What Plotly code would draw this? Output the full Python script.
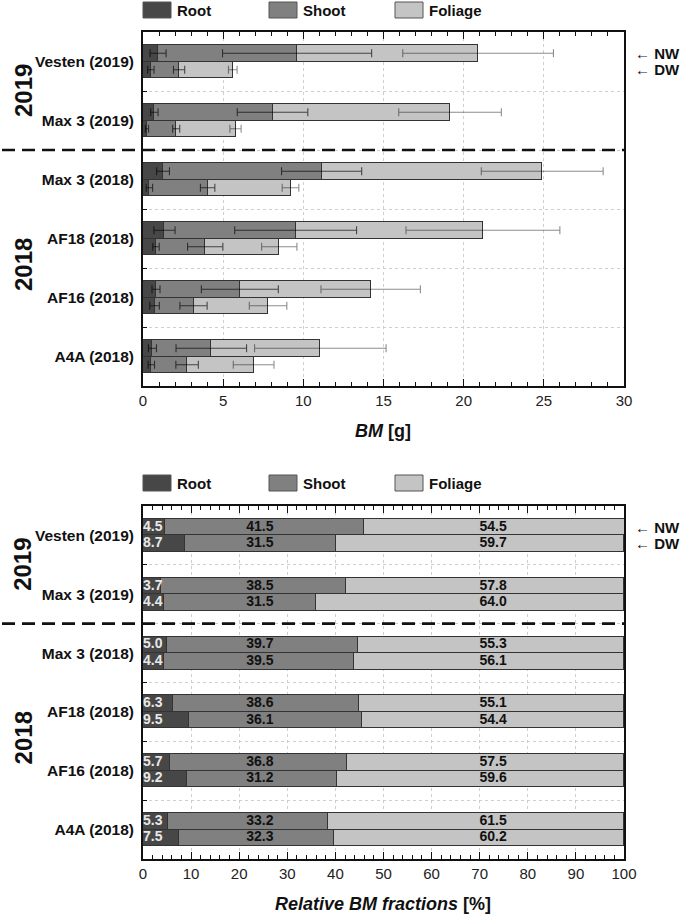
import plotly.graph_objects as go

# ---------------- data ----------------
categories = ["Vesten (2019)", "Max 3 (2019)", "Max 3 (2018)",
              "AF18 (2018)", "AF16 (2018)", "A4A (2018)"]
series_names = ["Root", "Shoot", "Foliage"]
year_labels = ["2019", "2018"]

# Biomass [g] - NW (upper bar) and DW (lower bar)
nw_root = [0.94, 0.71, 1.25, 1.34, 0.81, 0.59]
nw_shoot = [8.67, 7.37, 9.89, 8.18, 5.23, 3.67]
nw_foliage = [11.29, 11.07, 13.76, 11.68, 8.16, 6.80]
dw_root = [0.49, 0.25, 0.40, 0.81, 0.72, 0.52]
dw_shoot = [1.76, 1.82, 3.63, 3.07, 2.43, 2.23]
dw_foliage = [3.35, 3.70, 5.17, 4.62, 4.65, 4.15]

nw_root_sd = [0.50, 0.23, 0.40, 0.66, 0.25, 0.25]
nw_shoot_sd = [4.65, 2.20, 2.50, 3.80, 2.40, 2.20]
nw_foliage_sd = [4.70, 3.20, 3.80, 4.80, 3.10, 4.10]
dw_root_sd = [0.20, 0.10, 0.20, 0.20, 0.30, 0.20]
dw_shoot_sd = [0.35, 0.22, 0.45, 1.10, 0.85, 0.70]
dw_foliage_sd = [0.27, 0.35, 0.52, 1.10, 1.17, 1.27]

# Relative BM fractions [%]
nw_root_pct = [4.5, 3.7, 5.0, 6.3, 5.7, 5.3]
nw_shoot_pct = [41.5, 38.5, 39.7, 38.6, 36.8, 33.2]
nw_foliage_pct = [54.5, 57.8, 55.3, 55.1, 57.5, 61.5]
dw_root_pct = [8.7, 4.4, 4.4, 9.5, 9.2, 7.5]
dw_shoot_pct = [31.5, 31.5, 39.5, 36.1, 31.2, 32.3]
dw_foliage_pct = [59.7, 64.0, 56.1, 54.4, 59.6, 60.2]

# ---------------- style ----------------
FONT = "Liberation Sans, Arial, sans-serif"
colors = ["#474747", "#808080", "#c4c4c4"]
outline = "#333333"
err_colors = ["rgba(0,0,0,0.65)", "rgba(0,0,0,0.65)", "rgba(0,0,0,0.45)"]
OFF = 0.14
BW = 0.28

idx = list(range(len(categories)))
y_nw = [i - OFF for i in idx]
y_dw = [i + OFF for i in idx]
ypos = y_nw + y_dw

fig = go.Figure()

# ---------- top chart: absolute BM ----------
top_vals = [nw_root + dw_root, nw_shoot + dw_shoot, nw_foliage + dw_foliage]
top_sd = [nw_root_sd + dw_root_sd, nw_shoot_sd + dw_shoot_sd, nw_foliage_sd + dw_foliage_sd]
for k, name in enumerate(series_names):
    fig.add_trace(go.Bar(
        x=top_vals[k], y=ypos, orientation="h", width=BW, name=name,
        marker=dict(color=colors[k], line=dict(color=outline, width=1.3)),
        xaxis="x", yaxis="y", showlegend=False, hoverinfo="skip"))

cum = [0.0] * len(ypos)
for k in range(3):
    cum = [c + v for c, v in zip(cum, top_vals[k])]
    fig.add_trace(go.Scatter(
        x=cum, y=ypos, mode="markers",
        marker=dict(size=1, color="rgba(0,0,0,0)"),
        error_x=dict(type="data", array=top_sd[k], symmetric=True,
                     color=err_colors[k], thickness=1.1, width=4),
        xaxis="x", yaxis="y", showlegend=False, hoverinfo="skip"))

# ---------- bottom chart: relative fractions ----------
bot_vals = [nw_root_pct + dw_root_pct, nw_shoot_pct + dw_shoot_pct,
            nw_foliage_pct + dw_foliage_pct]
for k, name in enumerate(series_names):
    fig.add_trace(go.Bar(
        x=bot_vals[k], y=ypos, orientation="h", width=BW, name=name,
        marker=dict(color=colors[k], line=dict(color=outline, width=1.3)),
        xaxis="x2", yaxis="y2", showlegend=False, hoverinfo="skip"))

# value labels
fig.add_trace(go.Scatter(
    x=[0.0] * len(ypos), y=ypos, mode="text",
    text=[f"{v:.1f}" for v in bot_vals[0]], textposition="middle right",
    textfont=dict(family=FONT, size=14, color="#e8e8e8", weight="bold"),
    xaxis="x2", yaxis="y2", showlegend=False, hoverinfo="skip"))
fig.add_trace(go.Scatter(
    x=[24.3] * len(ypos), y=ypos, mode="text",
    text=[f"{v:.1f}" for v in bot_vals[1]], textposition="middle center",
    textfont=dict(family=FONT, size=14, color="#111111", weight="bold"),
    xaxis="x2", yaxis="y2", showlegend=False, hoverinfo="skip"))
fig.add_trace(go.Scatter(
    x=[72.8] * len(ypos), y=ypos, mode="text",
    text=[f"{v:.1f}" for v in bot_vals[2]], textposition="middle center",
    textfont=dict(family=FONT, size=14, color="#111111", weight="bold"),
    xaxis="x2", yaxis="y2", showlegend=False, hoverinfo="skip"))

# ---------------- geometry ----------------
FW, FH = 685, 916
TOP_PX, BOT_PX = 32, 859
plot_h = BOT_PX - TOP_PX
def py(p):
    return (BOT_PX - p) / plot_h
L, R = 143, 624
def px(p):
    return (p - L) / (R - L)

minor_half = [i + 0.5 for i in idx[:-1]]
grid_c = "#cfcfcf"

def xaxis_cfg(rng, dtick, mdtick, anchor):
    return dict(
        range=rng, dtick=dtick, tick0=0, ticks="inside", ticklen=7, tickwidth=1.2,
        tickcolor="#111", showline=True, linecolor="#111", linewidth=1.8,
        mirror="ticks", showgrid=True, gridcolor=grid_c, griddash="dot", gridwidth=1,
        zeroline=False, anchor=anchor, automargin=False,
        tickfont=dict(family=FONT, size=15, color="#222"),
        minor=dict(dtick=mdtick, ticks="inside", ticklen=4, tickcolor="#111",
                   showgrid=False))

def yaxis_cfg(domain, anchor):
    return dict(
        domain=domain, range=[5.5, -0.5], tickmode="array", tickvals=idx,
        ticktext=categories, ticks="", showline=True, linecolor="#111",
        linewidth=1.8, mirror=True, showgrid=False, zeroline=False,
        anchor=anchor, ticklabelstandoff=4, automargin=False,
        tickfont=dict(family=FONT, size=15.5, color="#111", weight="bold"),
        minor=dict(tickmode="array", tickvals=minor_half, ticks="inside",
                   ticklen=4, tickcolor="#111", showgrid=True,
                   gridcolor=grid_c, griddash="dot", gridwidth=1))

fig.update_layout(
    width=FW, height=FH,
    margin=dict(l=L, r=FW - R, t=TOP_PX, b=FH - BOT_PX),
    paper_bgcolor="white", plot_bgcolor="white",
    barmode="stack", bargap=0,
    font=dict(family=FONT, color="#111"),
    xaxis=xaxis_cfg([0, 30], 5, 1, "y"),
    yaxis=yaxis_cfg([py(386), 1], "x"),
    xaxis2=xaxis_cfg([0, 100], 10, 2, "y2"),
    yaxis2=yaxis_cfg([0, py(506)], "x2"),
)

shapes = []
annotations = []

# separators between years, year labels, NW/DW markers
for yr in ["y", "y2"]:
    shapes.append(dict(type="line", xref="paper", yref=yr, x0=px(2), x1=1,
                       y0=1.5, y1=1.5, line=dict(color="#111", width=2.6, dash="13px,7px")))
    annotations.append(dict(xref="paper", yref=yr, x=px(23), y=0.5, text=year_labels[0],
                            textangle=-90, showarrow=False, xanchor="center", yanchor="middle",
                            font=dict(family=FONT, size=24, color="#111", weight="bold")))
    annotations.append(dict(xref="paper", yref=yr, x=px(23), y=3.45, text=year_labels[1],
                            textangle=-90, showarrow=False, xanchor="center", yanchor="middle",
                            font=dict(family=FONT, size=24, color="#111", weight="bold")))
    annotations.append(dict(xref="paper", yref=yr, x=px(633), y=-OFF, text="← <b>NW</b>",
                            showarrow=False, xanchor="left", yanchor="middle",
                            font=dict(family=FONT, size=15, color="#111")))
    annotations.append(dict(xref="paper", yref=yr, x=px(633), y=OFF, text="← <b>DW</b>",
                            showarrow=False, xanchor="left", yanchor="middle",
                            font=dict(family=FONT, size=15, color="#111")))

# manual legends
box_x = [143, 269, 395]
for ytop in [2, 475]:
    for k, name in enumerate(series_names):
        shapes.append(dict(type="rect", xref="paper", yref="paper",
                           x0=px(box_x[k]), x1=px(box_x[k] + 28),
                           y0=py(ytop + 16), y1=py(ytop),
                           fillcolor=colors[k], line=dict(color="#555", width=1)))
        annotations.append(dict(xref="paper", yref="paper", x=px(box_x[k] + 32),
                                y=py(ytop + 8), text=name, showarrow=False,
                                xanchor="left", yanchor="middle",
                                font=dict(family=FONT, size=15, color="#111", weight="bold")))

# axis titles
annotations.append(dict(xref="paper", yref="paper", x=px(383), y=py(431),
                        text="<b><i>BM</i> [g]</b>", showarrow=False,
                        xanchor="center", yanchor="middle",
                        font=dict(family=FONT, size=18, color="#111")))
annotations.append(dict(xref="paper", yref="paper", x=px(383), y=py(904),
                        text="<b><i>Relative BM fractions</i> [%]</b>", showarrow=False,
                        xanchor="center", yanchor="middle",
                        font=dict(family=FONT, size=18, color="#111")))

fig.update_layout(shapes=shapes, annotations=annotations)
fig.write_html("out.html", config={"displayModeBar": False},
               post_script="document.body.style.margin='0px';")
